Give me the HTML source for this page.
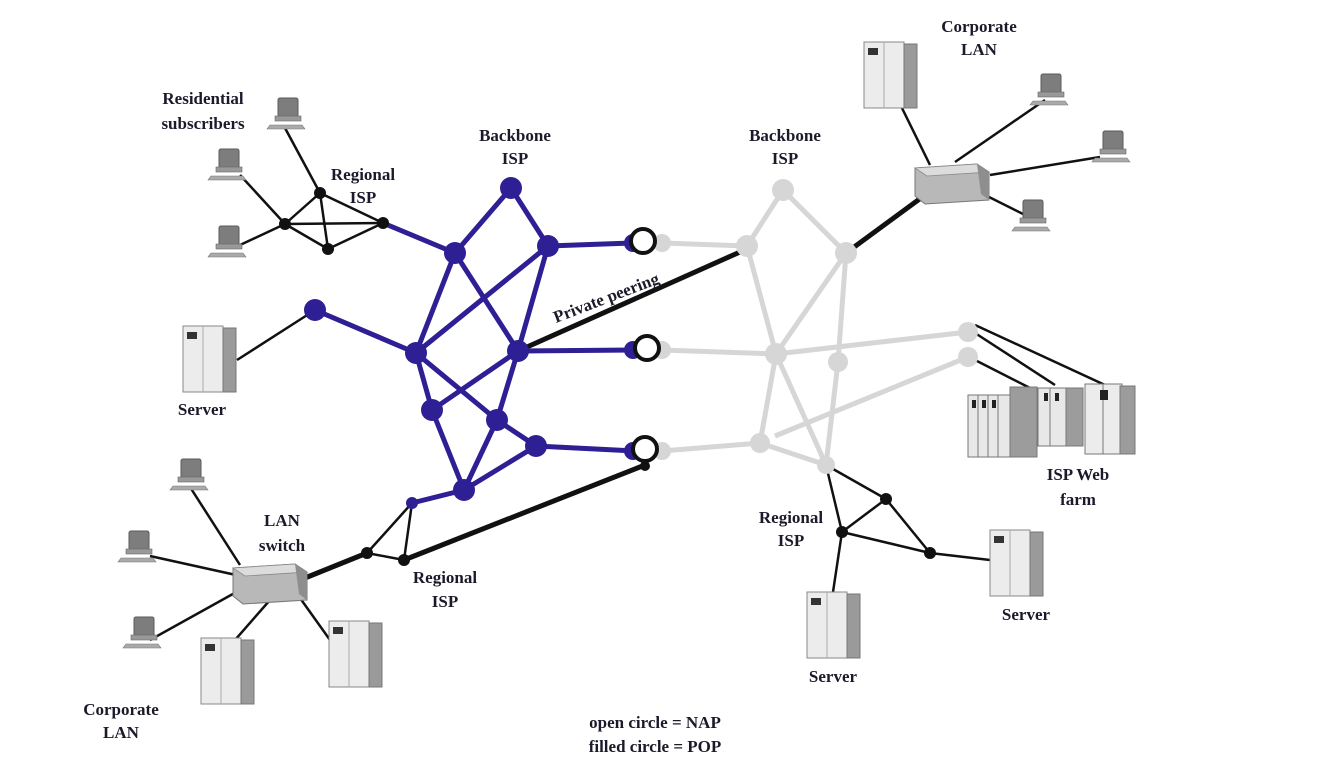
<!DOCTYPE html>
<html><head><meta charset="utf-8"><style>
html,body{margin:0;padding:0;background:#fff;}
svg{display:block;}
text{font-family:"Liberation Serif",serif;font-weight:bold;font-size:17px;fill:#1a1a2a;}
</style></head><body>
<svg width="1320" height="783" viewBox="0 0 1320 783" xmlns="http://www.w3.org/2000/svg">
<defs>
<g id="pc">
<rect x="6" y="0" width="20" height="19" rx="2" fill="#7d7d7d" stroke="#5a5a5a"/>
<rect x="3" y="18" width="26" height="5" fill="#999" stroke="#666" stroke-width="0.6"/>
<path d="M-2 27 L30 27 L33 31 L-5 31 Z" fill="#aaa" stroke="#777" stroke-width="0.6"/>
</g>
<g id="srv">
<rect x="0" y="0" width="40" height="66" fill="#ececec" stroke="#888"/>
<rect x="40" y="2" width="13" height="64" fill="#9a9a9a" stroke="#777"/>
<line x1="20" y1="0" x2="20" y2="66" stroke="#aaa"/>
<rect x="4" y="6" width="10" height="7" fill="#333"/>
</g>
<g id="sw">
<path d="M0 8 L62 4 L74 12 L74 40 L10 44 L0 36 Z" fill="#b8b8b8" stroke="#777"/>
<path d="M0 8 L62 4 L74 12 L12 16 Z" fill="#dcdcdc" stroke="#888" stroke-width="0.8"/>
<path d="M62 4 L74 12 L74 40 L66 34 Z" fill="#8e8e8e"/>
</g>
</defs>

<!-- black thin links -->
<g stroke="#111" stroke-width="2.5" fill="none">
<line x1="285" y1="128" x2="320" y2="193"/>
<line x1="240" y1="175" x2="285" y2="224"/>
<line x1="240" y1="245" x2="285" y2="224"/>
<line x1="320" y1="193" x2="285" y2="224"/><line x1="320" y1="193" x2="383" y2="223"/>
<line x1="320" y1="193" x2="328" y2="249"/><line x1="285" y1="224" x2="383" y2="223"/>
<line x1="285" y1="224" x2="328" y2="249"/><line x1="328" y1="249" x2="383" y2="223"/>
<line x1="237" y1="360" x2="315" y2="310"/>
<line x1="190" y1="487" x2="240" y2="565"/>
<line x1="150" y1="556" x2="236" y2="575"/>
<line x1="150" y1="640" x2="240" y2="590"/>
<line x1="235" y1="640" x2="270" y2="600"/>
<line x1="330" y1="640" x2="300" y2="598"/>
<line x1="412" y1="503" x2="367" y2="553"/><line x1="412" y1="503" x2="404" y2="560"/>
<line x1="367" y1="553" x2="404" y2="560"/>
<line x1="900" y1="104" x2="930" y2="165"/>
<line x1="1045" y1="100" x2="955" y2="162"/>
<line x1="1100" y1="157" x2="990" y2="175"/>
<line x1="1025" y1="215" x2="985" y2="195"/>
<line x1="975" y1="325" x2="1105" y2="385"/>
<line x1="975" y1="333" x2="1055" y2="385"/>
<line x1="975" y1="360" x2="1030" y2="388"/>
<line x1="826" y1="465" x2="842" y2="532"/><line x1="826" y1="465" x2="886" y2="499"/>
<line x1="842" y1="532" x2="886" y2="499"/><line x1="842" y1="532" x2="930" y2="553"/>
<line x1="886" y1="499" x2="930" y2="553"/><line x1="930" y1="553" x2="990" y2="560"/>
<line x1="842" y1="532" x2="833" y2="592"/>
</g>
<!-- thick black -->
<g stroke="#111" stroke-width="5" fill="none">
<line x1="518" y1="351" x2="740" y2="252"/>
<line x1="846" y1="253" x2="925" y2="195"/>
<line x1="645" y1="465" x2="404" y2="560"/>
<line x1="367" y1="553" x2="305" y2="578"/>
</g>

<!-- gray network -->
<g stroke="#d6d6d6" stroke-width="5" fill="none">
<line x1="662" y1="243" x2="747" y2="246"/><line x1="783" y1="190" x2="747" y2="246"/>
<line x1="783" y1="190" x2="846" y2="253"/><line x1="747" y1="246" x2="776" y2="354"/>
<line x1="846" y1="253" x2="776" y2="354"/><line x1="846" y1="253" x2="838" y2="362"/>
<line x1="662" y1="350" x2="776" y2="354"/><line x1="776" y1="354" x2="968" y2="332"/>
<line x1="776" y1="354" x2="826" y2="465"/><line x1="838" y1="362" x2="826" y2="465"/>
<line x1="968" y1="357" x2="775" y2="436"/><line x1="662" y1="451" x2="760" y2="443"/>
<line x1="760" y1="443" x2="826" y2="465"/><line x1="776" y1="354" x2="760" y2="443"/>
</g>
<g fill="#d6d6d6">
<circle cx="662" cy="243" r="9"/><circle cx="783" cy="190" r="11"/><circle cx="747" cy="246" r="11"/>
<circle cx="846" cy="253" r="11"/><circle cx="662" cy="350" r="9"/><circle cx="776" cy="354" r="11"/>
<circle cx="838" cy="362" r="10"/><circle cx="968" cy="332" r="10"/><circle cx="968" cy="357" r="10"/>
<circle cx="662" cy="451" r="9"/><circle cx="760" cy="443" r="10"/><circle cx="826" cy="465" r="9"/>
</g>

<!-- blue network -->
<g stroke="#2e1f94" stroke-width="5" fill="none">
<line x1="383" y1="223" x2="455" y2="253"/><line x1="511" y1="188" x2="455" y2="253"/>
<line x1="511" y1="188" x2="548" y2="246"/><line x1="548" y1="246" x2="632" y2="243"/>
<line x1="455" y1="253" x2="416" y2="353"/><line x1="455" y1="253" x2="518" y2="351"/>
<line x1="548" y1="246" x2="416" y2="353"/><line x1="548" y1="246" x2="518" y2="351"/>
<line x1="315" y1="310" x2="416" y2="353"/><line x1="416" y1="353" x2="432" y2="410"/>
<line x1="416" y1="353" x2="497" y2="420"/><line x1="497" y1="420" x2="536" y2="446"/>
<line x1="518" y1="351" x2="432" y2="410"/><line x1="518" y1="351" x2="497" y2="420"/>
<line x1="518" y1="351" x2="635" y2="350"/><line x1="432" y1="410" x2="464" y2="490"/>
<line x1="497" y1="420" x2="464" y2="490"/><line x1="536" y1="446" x2="464" y2="490"/>
<line x1="536" y1="446" x2="635" y2="451"/><line x1="464" y1="490" x2="412" y2="503"/>
</g>
<g fill="#2e1f94">
<circle cx="511" cy="188" r="11"/><circle cx="455" cy="253" r="11"/><circle cx="548" cy="246" r="11"/>
<circle cx="315" cy="310" r="11"/><circle cx="416" cy="353" r="11"/><circle cx="518" cy="351" r="11"/>
<circle cx="432" cy="410" r="11"/><circle cx="497" cy="420" r="11"/><circle cx="536" cy="446" r="11"/>
<circle cx="464" cy="490" r="11"/><circle cx="412" cy="503" r="6"/>
<circle cx="633" cy="243" r="9"/><circle cx="633" cy="350" r="9"/><circle cx="633" cy="451" r="9"/>
</g>
<!-- black small nodes -->
<g fill="#111">
<circle cx="320" cy="193" r="6"/><circle cx="285" cy="224" r="6"/><circle cx="328" cy="249" r="6"/>
<circle cx="383" cy="223" r="6"/><circle cx="367" cy="553" r="6"/><circle cx="404" cy="560" r="6"/>
<circle cx="842" cy="532" r="6"/><circle cx="886" cy="499" r="6"/><circle cx="930" cy="553" r="6"/>
<circle cx="645" cy="466" r="5"/>
</g>
<!-- NAPs -->
<g fill="#fff" stroke="#111" stroke-width="4">
<circle cx="643" cy="241" r="12"/><circle cx="647" cy="348" r="12"/><circle cx="645" cy="449" r="12"/>
</g>

<!-- devices -->
<use href="#pc" x="272" y="98"/><use href="#pc" x="213" y="149"/><use href="#pc" x="213" y="226"/>
<use href="#pc" x="175" y="459"/><use href="#pc" x="123" y="531"/><use href="#pc" x="128" y="617"/>
<use href="#pc" x="1035" y="74"/><use href="#pc" x="1097" y="131"/><use href="#pc" x="1017" y="200"/>
<use href="#srv" x="183" y="326"/><use href="#srv" x="864" y="42"/>
<use href="#srv" x="201" y="638"/><use href="#srv" x="329" y="621"/>
<use href="#srv" x="990" y="530"/><use href="#srv" x="807" y="592"/>
<use href="#sw" x="233" y="560"/><use href="#sw" x="915" y="160"/>
<!-- web farm -->
<g stroke="#777">
<rect x="968" y="395" width="44" height="62" fill="#e8e8e8"/>
<rect x="1010" y="387" width="27" height="70" fill="#9c9c9c"/>
<line x1="978" y1="395" x2="978" y2="457"/><line x1="988" y1="395" x2="988" y2="457"/><line x1="998" y1="395" x2="998" y2="457"/>
<rect x="1038" y="388" width="30" height="58" fill="#e8e8e8"/>
<rect x="1066" y="388" width="17" height="58" fill="#9c9c9c"/>
<line x1="1050" y1="388" x2="1050" y2="446"/>
<rect x="1085" y="384" width="37" height="70" fill="#ececec"/>
<rect x="1120" y="386" width="15" height="68" fill="#9c9c9c"/>
<line x1="1103" y1="384" x2="1103" y2="454"/>
</g>
<g fill="#222"><rect x="972" y="400" width="4" height="8"/><rect x="982" y="400" width="4" height="8"/><rect x="992" y="400" width="4" height="8"/><rect x="1044" y="393" width="4" height="8"/><rect x="1055" y="393" width="4" height="8"/><rect x="1100" y="390" width="8" height="10"/></g>

<!-- labels -->
<g text-anchor="middle">
<text x="203" y="104">Residential</text><text x="203" y="129">subscribers</text>
<text x="363" y="180">Regional</text><text x="363" y="203">ISP</text>
<text x="515" y="141">Backbone</text><text x="515" y="164">ISP</text>
<text x="785" y="141">Backbone</text><text x="785" y="164">ISP</text>
<text x="979" y="32">Corporate</text><text x="979" y="55">LAN</text>
<text x="202" y="415">Server</text>
<text x="282" y="526">LAN</text><text x="282" y="551">switch</text>
<text x="445" y="583">Regional</text><text x="445" y="607">ISP</text>
<text x="121" y="715">Corporate</text><text x="121" y="738">LAN</text>
<text x="791" y="523">Regional</text><text x="791" y="546">ISP</text>
<text x="1026" y="620">Server</text><text x="833" y="682">Server</text>
<text x="1078" y="480">ISP Web</text><text x="1078" y="505">farm</text>
<text x="655" y="728">open circle = NAP</text><text x="655" y="752">filled circle = POP</text>
</g>
<text x="556" y="323" transform="rotate(-21 556 323)">Private peering</text>
</svg>
</body></html>
